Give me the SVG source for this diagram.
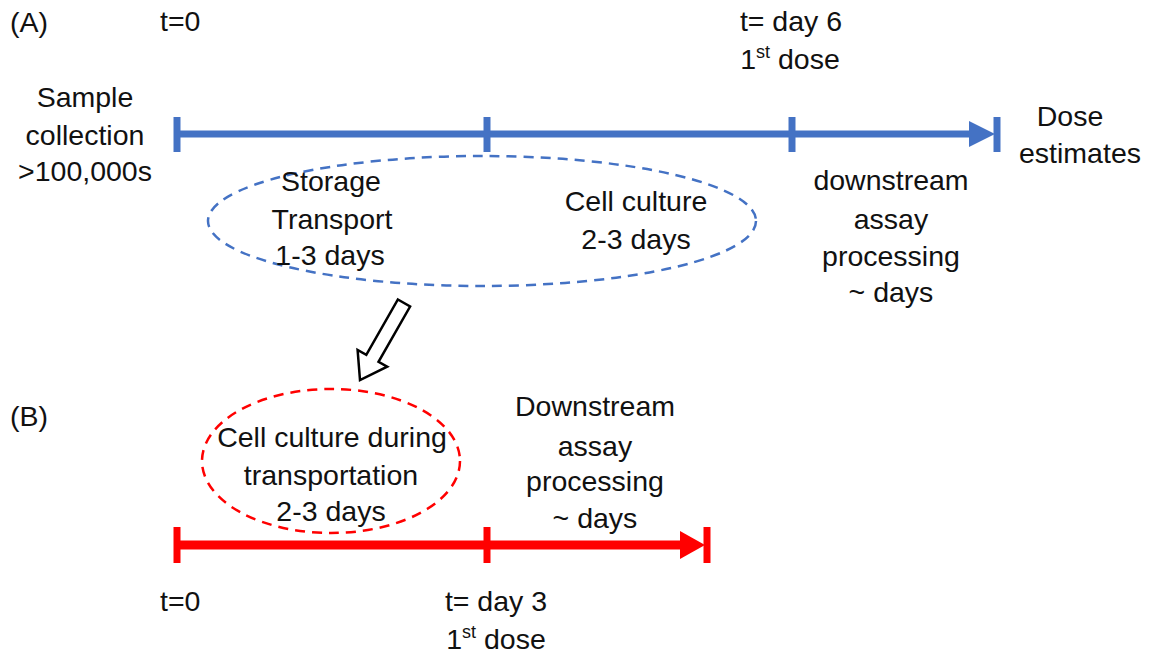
<svg xmlns="http://www.w3.org/2000/svg" width="1159" height="656" viewBox="0 0 1159 656">
<style>
text{font-family:"Liberation Sans",Arial,sans-serif;font-size:28.5px;fill:#111}
.c{text-anchor:middle}
.sup{font-size:18px}
.blue{stroke:#4472C4;fill:none}
.red{stroke:#FF0000;fill:none}
</style>
<rect width="1159" height="656" fill="#fff"/>
<g id="connectors">
<g id="timelineA">
<line class="blue" x1="177" y1="134" x2="972" y2="134" stroke-width="7"/>
<polygon points="969,121 995,134 969,147" fill="#4472C4"/>
<line class="blue" x1="177" y1="117" x2="177" y2="152" stroke-width="7"/>
<line class="blue" x1="487" y1="117" x2="487" y2="152" stroke-width="7"/>
<line class="blue" x1="792" y1="117" x2="792" y2="152" stroke-width="7"/>
<line class="blue" x1="997" y1="117" x2="997" y2="152" stroke-width="7"/>
</g>
<g id="timelineB">
<line class="red" x1="177" y1="545" x2="684" y2="545" stroke-width="9"/>
<polygon points="680,531 705,545 680,559" fill="#FF0000"/>
<line class="red" x1="177" y1="527" x2="177" y2="563" stroke-width="7"/>
<line class="red" x1="487" y1="527" x2="487" y2="563" stroke-width="7"/>
<line class="red" x1="707" y1="527" x2="707" y2="563" stroke-width="7"/>
</g>
<polygon id="hollowArrow" points="397.9,299.5 410.1,306.5 378.5,361.8 387.2,366.7 360,380 357.6,349.9 366.3,354.8" fill="#fff" stroke="#000" stroke-width="2.5" stroke-linejoin="miter"/>
</g>
<g id="labelA"><text x="10" y="32">(A)</text></g>
<g id="labelB"><text x="10" y="426">(B)</text></g>
<g id="t0A"><text x="160" y="31">t=0</text></g>
<g id="day6"><text class="c" x="791" y="31">t= day 6</text><text class="c" x="790" y="69">1<tspan class="sup" dy="-11">st</tspan><tspan dy="11"> dose</tspan></text></g>
<g id="sample"><text class="c" x="85" y="107">Sample</text><text class="c" x="85" y="145">collection</text><text class="c" x="85" y="181">&gt;100,000s</text></g>
<g id="dose"><text class="c" x="1070" y="126">Dose</text><text class="c" x="1080" y="163">estimates</text></g>
<g id="ellipseA">
<ellipse class="blue" cx="482" cy="221" rx="274" ry="65" stroke-width="2.5" stroke-dasharray="10,7"/>
<text class="c" x="331" y="191">Storage</text><text class="c" x="332" y="229">Transport</text><text class="c" x="330" y="265">1-3 days</text>
<text class="c" x="636" y="211">Cell culture</text><text class="c" x="636" y="249">2-3 days</text>
</g>
<g id="downstreamA"><text class="c" x="891" y="190">downstream</text><text class="c" x="891" y="229">assay</text><text class="c" x="891" y="266">processing</text><text class="c" x="891" y="302">~ days</text></g>
<g id="ellipseB">
<ellipse class="red" cx="331" cy="461" rx="129" ry="72" stroke-width="2.5" stroke-dasharray="10,7"/>
<text class="c" x="332" y="447">Cell culture during</text><text class="c" x="331" y="485">transportation</text><text class="c" x="331" y="521">2-3 days</text>
</g>
<g id="downstreamB"><text class="c" x="595" y="416">Downstream</text><text class="c" x="595" y="456">assay</text><text class="c" x="595" y="491">processing</text><text class="c" x="595" y="528">~ days</text></g>
<g id="t0B"><text x="160" y="611">t=0</text></g>
<g id="day3"><text class="c" x="496" y="611">t= day 3</text><text class="c" x="496" y="649">1<tspan class="sup" dy="-11">st</tspan><tspan dy="11"> dose</tspan></text></g>
</svg>
